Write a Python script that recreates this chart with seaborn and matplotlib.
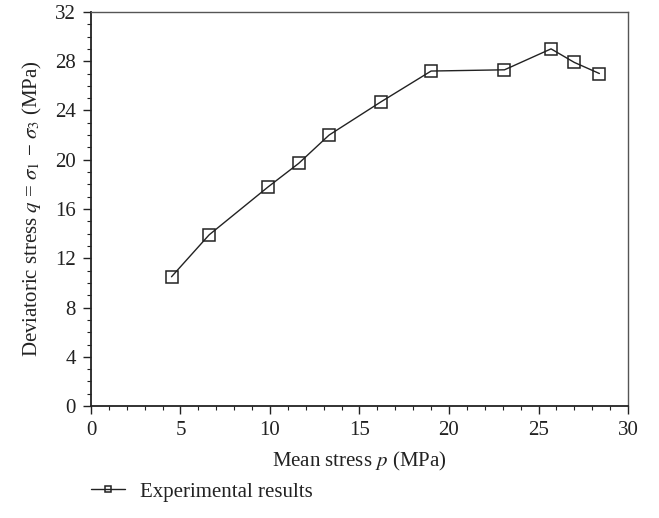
import matplotlib
matplotlib.use("Agg")
import matplotlib.pyplot as plt
import seaborn as sns
import pandas as pd
from matplotlib.ticker import MultipleLocator

mean_stress = [4.5, 6.6, 9.9, 11.6, 13.3, 16.2, 19.0, 23.1, 25.7, 27.0, 28.4]
deviatoric = [10.5, 13.9, 17.8, 19.7, 22.0, 24.7, 27.2, 27.3, 29.0, 27.9, 27.0]
series_label = "Experimental results"

sns.set_theme(style="white")
plt.rcParams['font.family'] = ['Liberation Serif', 'DejaVu Serif']
plt.rcParams['mathtext.fontset'] = 'stix'

df = pd.DataFrame({"p": mean_stress, "q": deviatoric, "s": series_label})

fig = plt.figure(figsize=(6.59, 5.18), dpi=100)
ax = fig.add_axes([0.138, 0.216, 0.815, 0.761])
sns.lineplot(data=df, x="p", y="q", hue="s", palette=["#222222"], marker="s",
             markersize=8.5, markerfacecolor="none", markeredgecolor="#222222",
             markeredgewidth=1.1, linewidth=1.0, ax=ax, sort=False)

ax.set_xlim(0, 30)
ax.set_ylim(0, 32)
ax.xaxis.set_major_locator(MultipleLocator(5))
ax.xaxis.set_minor_locator(MultipleLocator(1))
ax.yaxis.set_major_locator(MultipleLocator(4))
ax.yaxis.set_minor_locator(MultipleLocator(1))
ax.tick_params(which="major", direction="out", length=6, width=1, colors="#222222",
               labelsize=15, bottom=True, left=True, pad=5)
ax.tick_params(which="minor", direction="out", length=3, width=0.8, colors="#222222",
               bottom=True, left=True)
for s in ["left", "bottom"]:
    ax.spines[s].set_color("#222222")
    ax.spines[s].set_linewidth(1.3)
for s in ["top", "right"]:
    ax.spines[s].set_color("#555555")
    ax.spines[s].set_linewidth(1.0)

ax.set_xlabel(r"Mean stress $p$ (MPa)", fontsize=15, color="#222222", labelpad=7)
ax.set_ylabel(r"Deviatoric stress $q$ = $\sigma_1$ − $\sigma_3$ (MPa)", fontsize=15,
              color="#222222", labelpad=8)

leg = ax.legend(loc="upper left", bbox_to_anchor=(-0.034, -0.145), frameon=False,
                fontsize=15, handlelength=1.6, handletextpad=0.75, markerscale=0.55)
for t in leg.get_texts():
    t.set_color("#222222")

fig.savefig("out.png", dpi=100)
